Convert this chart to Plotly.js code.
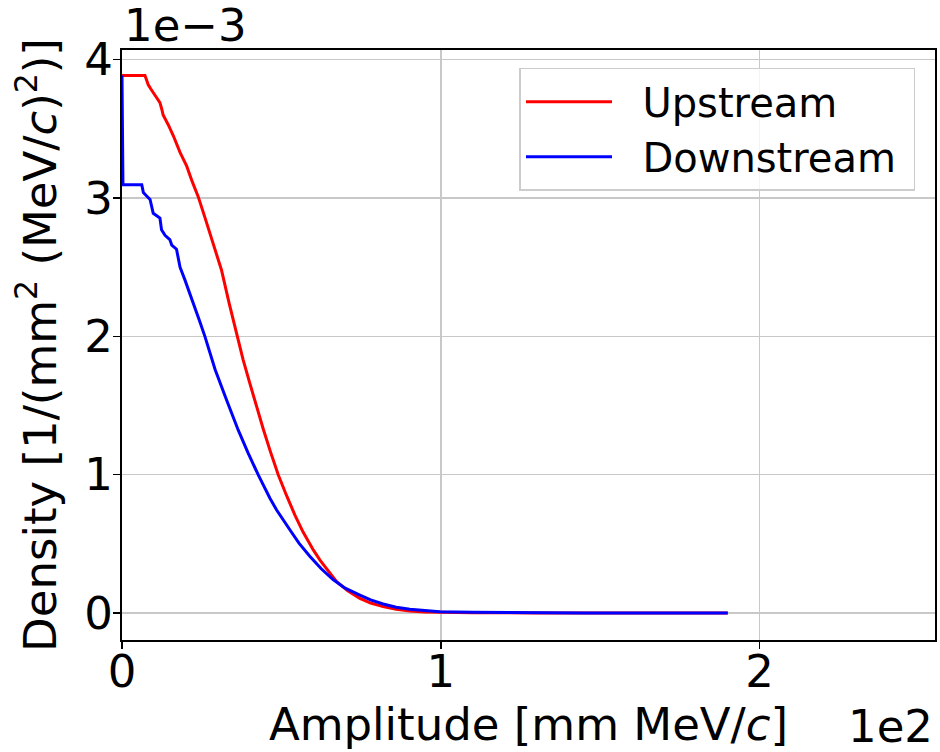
<!DOCTYPE html>
<html>
<head>
<meta charset="utf-8">
<script src="https://cdn.plot.ly/plotly-3.0.1.min.js"></script>
<style>html,body{margin:0;padding:0;background:#fff;}#chart{width:940px;height:752px;}</style>
</head>
<body>
<div id="chart"></div>
<script>
// Amplitude in mm MeV/c, density in units of 1e-3 per (mm^2 (MeV/c)^2)
const upstreamX = [0, 7.2, 7.6, 8.2, 9.0, 9.8, 10.8, 11.9, 12.5, 12.9, 14.5, 16.1, 18.2, 20.3, 22.0, 23.9, 26.0, 28.1, 31.2, 33.6, 36.0, 38.0, 40.1, 42.2, 44.3, 46.5, 49.0, 51.6, 54.2, 56.8, 60.0, 62.1, 64.7, 67.3, 70.8, 74.6, 78.0, 81.9, 86.0, 90.3, 95, 100, 110, 130, 150, 170, 190];
const upstreamY = [3.885, 3.885, 3.86, 3.82, 3.79, 3.76, 3.73, 3.69, 3.64, 3.60, 3.53, 3.45, 3.33, 3.23, 3.12, 3.01, 2.86, 2.70, 2.48, 2.24, 2.01, 1.83, 1.66, 1.49, 1.33, 1.17, 1.00, 0.85, 0.71, 0.585, 0.456, 0.383, 0.30, 0.226, 0.16, 0.106, 0.072, 0.046, 0.027, 0.014, 0.007, 0.004, 0.002, 0.001, 0.0005, 0.0002, 0.0];
const downstreamX = [0, 0.3, 6.2, 6.7, 7.5, 8.8, 9.8, 10.8, 11.9, 12.4, 13.5, 15.0, 15.6, 17.1, 18.2, 19.7, 21.0, 22.4, 24.2, 26.0, 29.2, 32.8, 36.5, 39.5, 42.7, 46.4, 48.5, 52.7, 55.5, 58.9, 62.5, 66.2, 70.0, 74.6, 78.0, 81.9, 86.0, 90.3, 95, 99.7, 110, 125, 145, 165, 190];
const downstreamY = [3.885, 3.096, 3.096, 3.04, 3.02, 2.99, 2.89, 2.87, 2.855, 2.77, 2.73, 2.70, 2.66, 2.63, 2.50, 2.41, 2.33, 2.24, 2.12, 2.00, 1.76, 1.54, 1.32, 1.16, 1.00, 0.83, 0.745, 0.60, 0.505, 0.41, 0.32, 0.242, 0.18, 0.130, 0.095, 0.065, 0.042, 0.027, 0.016, 0.010, 0.005, 0.002, 0.001, 0.0005, 0.0];
const xTickVals = [0, 100, 200];
const xTickText = ["0", "1", "2"];
const yTickVals = [0, 1, 2, 3, 4];
const yTickText = ["0", "1", "2", "3", "4"];
const seriesNames = ["Upstream", "Downstream"];

const FONT = "DejaVu Sans, Noto Sans, sans-serif";
const NB = "\u00a0\u00a0";
const traces = [
  {x: upstreamX, y: upstreamY, name: NB + seriesNames[0] + "\u00a0", type: "scatter", mode: "lines",
   line: {color: "#ff0000", width: 3}},
  {x: downstreamX, y: downstreamY, name: NB + seriesNames[1] + "\u00a0", type: "scatter", mode: "lines",
   line: {color: "#0000ff", width: 3}}
];
const layout = {
  width: 940, height: 752,
  margin: {l: 122, r: 5, t: 50, b: 112},
  paper_bgcolor: "#ffffff", plot_bgcolor: "#ffffff",
  font: {family: FONT, color: "#000000", size: 45},
  showlegend: true,
  xaxis: {
    range: [0, 255], tickvals: xTickVals, ticktext: xTickText,
    ticks: "outside", ticklen: 7, tickwidth: 1.5, tickcolor: "#000",
    showgrid: true, gridcolor: "#c8c8c8", gridwidth: 1.5,
    showline: true, linecolor: "#000", linewidth: 2, mirror: true,
    zeroline: false, tickfont: {size: 45, family: FONT}, ticklabelstandoff: -16,
    title: {text: "Amplitude [mm MeV/<i>c</i>]", font: {size: 45, family: FONT}, standoff: 4}
  },
  yaxis: {
    range: [-0.195, 4.07], tickvals: yTickVals, ticktext: yTickText,
    ticks: "outside", ticklen: 7, tickwidth: 1.5, tickcolor: "#000",
    showgrid: true, gridcolor: "#c8c8c8", gridwidth: 1.5,
    showline: true, linecolor: "#000", linewidth: 2, mirror: true,
    zeroline: false, tickfont: {size: 45, family: FONT}, ticklabelstandoff: -9,
    title: {text: "Density [1/(mm<sup>2</sup> (MeV/<i>c</i>)<sup>2</sup>)]", font: {size: 45, family: FONT}, standoff: 14}
  },
  legend: {
    x: 0.976, y: 0.97, xanchor: "right", yanchor: "top",
    bgcolor: "rgba(255,255,255,0.8)", bordercolor: "#cccccc", borderwidth: 1.5,
    font: {size: 40, family: FONT}, itemwidth: 86
  },
  annotations: [
    {text: "1e\u22123", xref: "paper", yref: "paper", x: 0, y: 1, xanchor: "left", yanchor: "bottom",
     showarrow: false, font: {size: 45, family: FONT}, yshift: -4},
    {text: "1e2", xref: "paper", yref: "paper", x: 1, y: 0, xanchor: "right", yanchor: "top",
     showarrow: false, font: {size: 45, family: FONT}, yshift: -58}
  ]
};
Plotly.newPlot("chart", traces, layout, {displayModeBar: false, staticPlot: true});
</script>
</body>
</html>
